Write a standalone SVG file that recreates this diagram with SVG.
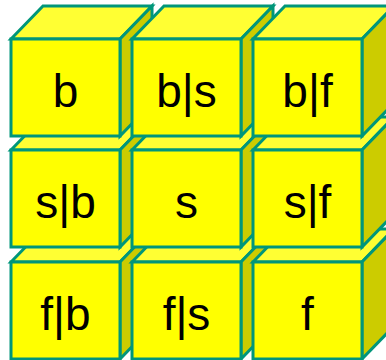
<svg xmlns="http://www.w3.org/2000/svg" xmlns:xlink="http://www.w3.org/1999/xlink" width="386" height="360" viewBox="0 0 386 360">
  <style>
    .edge { stroke: #00967A; stroke-width: 3; stroke-linejoin: miter; }
    .front { fill: #FFFF00; }
    .top { fill: #FFFF33; }
    .side { fill: #CCCC00; }
    .label { font-family: "Liberation Sans", Arial, sans-serif; font-size: 46px; fill: #000; text-anchor: middle; }
  </style>
  <defs>
    <!-- one cube: front face 109x97, depth offset (32,-33) -->
    <g id="cube">
      <polygon class="top edge" points="0,0 32,-33 141,-33 109,0"/>
      <polygon class="side edge" points="109,0 141,-33 141,64 109,97"/>
      <rect class="front edge" x="0" y="0" width="109" height="97"/>
    </g>
  </defs>
  <rect width="386" height="360" fill="#FFFFFF"/>
  <g id="cubes">
    <!-- bottom row first so upper rows overlap their top faces -->
    <g id="cube-f-b" transform="translate(11,262)">
      <use xlink:href="#cube"/>
      <text class="label" x="54.5" y="68">f|b</text>
    </g>
    <g id="cube-f-s" transform="translate(132,262)">
      <use xlink:href="#cube"/>
      <text class="label" x="54.5" y="68">f|s</text>
    </g>
    <g id="cube-f" transform="translate(253,262)">
      <use xlink:href="#cube"/>
      <text class="label" x="54.5" y="68">f</text>
    </g>
    <g id="cube-s-b" transform="translate(11,150)">
      <use xlink:href="#cube"/>
      <text class="label" x="54.5" y="68">s|b</text>
    </g>
    <g id="cube-s" transform="translate(132,150)">
      <use xlink:href="#cube"/>
      <text class="label" x="54.5" y="68">s</text>
    </g>
    <g id="cube-s-f" transform="translate(253,150)">
      <use xlink:href="#cube"/>
      <text class="label" x="54.5" y="68">s|f</text>
    </g>
    <g id="cube-b" transform="translate(11,39)">
      <use xlink:href="#cube"/>
      <text class="label" x="54.5" y="68">b</text>
    </g>
    <g id="cube-b-s" transform="translate(132,39)">
      <use xlink:href="#cube"/>
      <text class="label" x="54.5" y="68">b|s</text>
    </g>
    <g id="cube-b-f" transform="translate(253,39)">
      <use xlink:href="#cube"/>
      <text class="label" x="54.5" y="68">b|f</text>
    </g>
  </g>
  <g id="connectors"/>
</svg>
